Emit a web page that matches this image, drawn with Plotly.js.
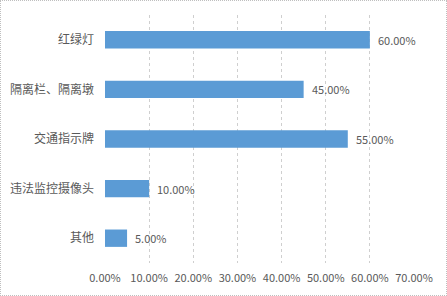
<!DOCTYPE html>
<html><head><meta charset="utf-8">
<script src="https://cdn.plot.ly/plotly-3.0.1.min.js"></script>
<style>html,body{margin:0;padding:0;background:#fff}#c{width:445px;height:294px;border:1px dotted #bfbfbf}</style>
</head><body><div id="c"></div>
<script>
const categories = ["红绿灯", "隔离栏、隔离墩", "交通指示牌", "违法监控摄像头", "其他"];
const values = [0.60, 0.45, 0.55, 0.10, 0.05];
const tickVals = [0, 0.1, 0.2, 0.3, 0.4, 0.5, 0.6, 0.7];
const tickText = ["0.00%", "10.00%", "20.00%", "30.00%", "40.00%", "50.00%", "60.00%", "70.00%"];

const font = "'Noto Sans CJK SC', 'Noto Sans', sans-serif";
Plotly.newPlot('c', [{
  type: 'bar', orientation: 'h',
  y: categories, x: values,
  marker: {color: '#5b9bd5', line: {width: 0}},
  width: 0.35,
  hoverinfo: 'none'
}], {
  width: 445, height: 294,
  margin: {l: 104, r: 32, t: 14, b: 32},
  paper_bgcolor: '#fff', plot_bgcolor: '#fff',
  showlegend: false,
  annotations: values.map((v, i) => ({
    x: v, y: categories[i], xref: 'x', yref: 'y',
    text: (v*100).toFixed(2) + '%', showarrow: false,
    xanchor: 'left', yanchor: 'middle', xshift: 6,
    font: {family: font, size: 11, color: '#595959'}
  })),
  xaxis: {range: [0, 0.7], tickvals: tickVals, ticktext: tickText,
    showgrid: true, gridcolor: '#cfcfcf', griddash: 'dot', gridwidth: 1,
    zeroline: false, showline: false, ticks: '', ticklabelstandoff: 7,
    tickfont: {family: font, size: 11, color: '#595959'}},
  yaxis: {autorange: 'reversed', showgrid: false, zeroline: false, showline: false,
    ticks: '', ticklabelstandoff: 10,
    tickfont: {family: font, size: 12, color: '#595959'}},
  bargap: 0.65
}, {staticPlot: true});
</script></body></html>
